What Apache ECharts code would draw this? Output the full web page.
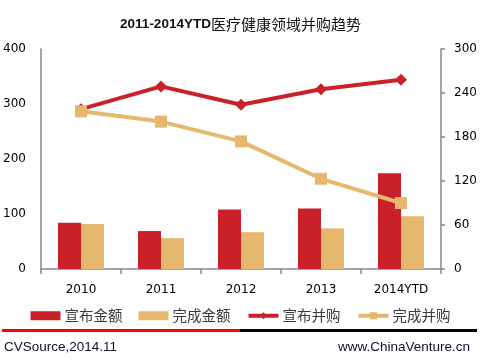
<!DOCTYPE html>
<html><head><meta charset="utf-8">
<script src="https://cdn.jsdelivr.net/npm/echarts@6/dist/echarts.min.js"></script>
<style>html,body{margin:0;padding:0;background:#fff}#c{width:481px;height:360px}</style>
</head><body><div id="c"></div>
<script>
const categories = ['2010','2011','2012','2013','2014YTD'];
const announcedAmount = [84, 69, 108, 110, 174];
const completedAmount = [82, 56, 67, 74, 96];
const announcedDeals = [218, 249, 224, 245, 258];
const completedDeals = [215, 201, 174, 123, 90];
const leftTicks = {min: 0, max: 400, interval: 100};
const rightTicks = {min: 0, max: 300, interval: 60};

const RED = '#C9202A', TAN = '#E6B86E', AX = '#868686';
const chart = echarts.init(document.getElementById('c'), null, {renderer: 'canvas'});
chart.setOption({
  animation: false,
  backgroundColor: '#fff',
  title: {
    text: '{a|2011-2014YTD}{b|医疗健康领域并购趋势}',
    left: 'center', top: 12,
    textStyle: {
      fontWeight: 'normal',
      rich: {
        a: {fontFamily: 'Liberation Sans', fontWeight: 'bold', fontSize: 13.5, color: '#111'},
        b: {fontFamily: 'Noto Sans CJK SC', fontWeight: 'normal', fontSize: 15, color: '#111'}
      }
    }
  },
  legend: {
    bottom: 32, left: 'center',
    itemWidth: 30, itemHeight: 9, itemGap: 16,
    textStyle: {fontFamily: 'Noto Sans CJK SC', fontSize: 14.5, color: '#3a3a3a', padding: [0,0,0,-1]},
    data: [
      {name: '宣布金额', icon: 'rect'},
      {name: '完成金额', icon: 'rect'},
      {name: '宣布并购', lineStyle: {width: 4}},
      {name: '完成并购', lineStyle: {width: 4}}
    ]
  },
  grid: {left: 41, right: 40, top: 49, bottom: 91},
  xAxis: {
    type: 'category', data: categories, boundaryGap: true,
    axisLine: {lineStyle: {color: AX, width: 1.5}},
    axisTick: {show: true, length: 5, lineStyle: {color: AX, width: 1.5}},
    axisLabel: {margin: 15, fontFamily: 'DejaVu Sans', fontSize: 12, color: '#000'}
  },
  yAxis: [
    {type: 'value', min: leftTicks.min, max: leftTicks.max, interval: leftTicks.interval,
     splitLine: {show: false},
     axisLine: {show: true, lineStyle: {color: AX, width: 1.5}},
     axisTick: {show: false},
     axisLabel: {margin: 15, fontFamily: 'DejaVu Sans', fontSize: 12, color: '#000'}},
    {type: 'value', min: rightTicks.min, max: rightTicks.max, interval: rightTicks.interval,
     position: 'right',
     splitLine: {show: false},
     axisLine: {show: true, lineStyle: {color: AX, width: 1.5}},
     axisTick: {show: true, length: 4, lineStyle: {color: AX, width: 1.5}},
     axisLabel: {margin: 13, fontFamily: 'DejaVu Sans', fontSize: 12, color: '#000'}}
  ],
  series: [
    {name: '宣布金额', type: 'bar', data: announcedAmount, barWidth: 23, barGap: '0%',
     itemStyle: {color: RED}},
    {name: '完成金额', type: 'bar', data: completedAmount, barWidth: 23, barGap: '0%',
     itemStyle: {color: TAN}},
    {name: '宣布并购', type: 'line', yAxisIndex: 1, data: announcedDeals,
     symbol: 'diamond', symbolSize: 12, lineStyle: {color: RED, width: 4},
     itemStyle: {color: RED}},
    {name: '完成并购', type: 'line', yAxisIndex: 1, data: completedDeals,
     symbol: 'rect', symbolSize: 12, lineStyle: {color: TAN, width: 4},
     itemStyle: {color: TAN}}
  ],
  graphic: [
    {type: 'rect', shape: {x: 2, y: 329, width: 238, height: 3}, style: {fill: '#FF0000'}},
    {type: 'rect', shape: {x: 240, y: 329, width: 237, height: 3}, style: {fill: '#000'}},
    {type: 'text', left: 4, top: 340, style: {text: 'CVSource,2014.11', font: '13.5px "Liberation Sans"', fill: '#101030'}},
    {type: 'text', right: 11, top: 340, style: {text: 'www.ChinaVenture.cn', font: '13.5px "Liberation Sans"', fill: '#101030'}}
  ]
});
</script></body></html>
